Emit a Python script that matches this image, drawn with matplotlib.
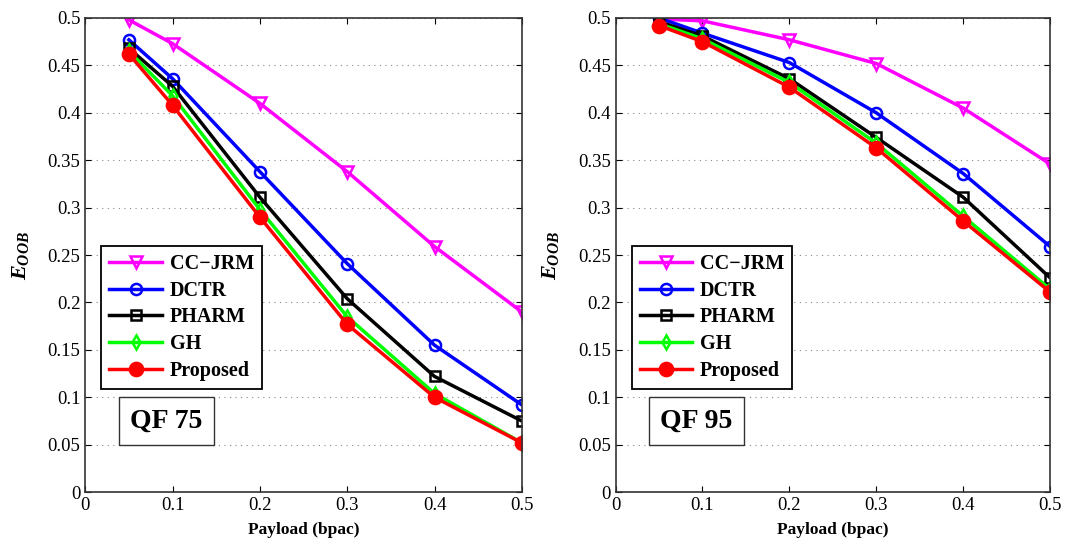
import matplotlib
matplotlib.use('Agg')
import matplotlib.pyplot as plt

plt.rcParams['font.family'] = ['Liberation Serif', 'DejaVu Serif']
plt.rcParams['mathtext.fontset'] = 'custom'
plt.rcParams['mathtext.it'] = 'Liberation Serif:italic:bold'
plt.rcParams['mathtext.rm'] = 'Liberation Serif'

payload = [0.05, 0.1, 0.2, 0.3, 0.4, 0.5]
methods = ['CC\u2212JRM', 'DCTR', 'PHARM', 'GH', 'Proposed']

# QF 75
qf75_ccjrm = [0.498, 0.473, 0.410, 0.338, 0.259, 0.190]
qf75_dctr = [0.477, 0.436, 0.338, 0.241, 0.155, 0.092]
qf75_pharm = [0.468, 0.428, 0.311, 0.204, 0.122, 0.075]
qf75_gh = [0.465, 0.418, 0.298, 0.185, 0.104, 0.052]
qf75_proposed = [0.462, 0.408, 0.290, 0.177, 0.100, 0.052]

# QF 95
qf95_ccjrm = [0.499, 0.497, 0.477, 0.452, 0.405, 0.346]
qf95_dctr = [0.500, 0.484, 0.453, 0.400, 0.336, 0.259]
qf95_pharm = [0.496, 0.481, 0.436, 0.374, 0.311, 0.226]
qf95_gh = [0.494, 0.478, 0.432, 0.368, 0.291, 0.214]
qf95_proposed = [0.492, 0.475, 0.427, 0.363, 0.286, 0.211]

styles = [
    dict(color='#ff00ff', marker='v', mfc='none', ms=9),
    dict(color='#0000ff', marker='o', mfc='none', ms=8),
    dict(color='black', marker='s', mfc='none', ms=6.5),
    dict(color='#00ff00', marker='d', mfc='none', ms=7),
    dict(color='#ff0000', marker='o', mfc='#ff0000', ms=9.5),
]

fig = plt.figure(figsize=(10.65, 5.45), dpi=100)
ax1 = fig.add_axes([0.080, 0.097, 0.410, 0.870])
ax2 = fig.add_axes([0.578, 0.097, 0.408, 0.870])

panels = [
    (ax1, [qf75_ccjrm, qf75_dctr, qf75_pharm, qf75_gh, qf75_proposed], 'QF 75'),
    (ax2, [qf95_ccjrm, qf95_dctr, qf95_pharm, qf95_gh, qf95_proposed], 'QF 95'),
]

for ax, series, tag in panels:
    for name, vals, st in zip(methods, series, styles):
        ax.plot(payload, vals, label=name, lw=2.5, mew=1.8, **st)
    ax.set_xlim(0, 0.5)
    ax.set_ylim(0, 0.5)
    ax.set_xticks([0, 0.1, 0.2, 0.3, 0.4, 0.5])
    ax.set_xticklabels(['0', '0.1', '0.2', '0.3', '0.4', '0.5'])
    ax.set_yticks([0, 0.05, 0.1, 0.15, 0.2, 0.25, 0.3, 0.35, 0.4, 0.45, 0.5])
    ax.set_yticklabels(['0', '0.05', '0.1', '0.15', '0.2', '0.25', '0.3', '0.35',
                        '0.4', '0.45', '0.5'])
    ax.tick_params(labelsize=13.5, direction='in', top=True, right=True, length=4)
    ax.yaxis.grid(True, linestyle=(0, (1, 4)), color='#888888', lw=0.8)
    for s in ax.spines.values():
        s.set_linewidth(1.2)
        s.set_color('#333333')
    ax.set_xlabel('Payload (bpac)', fontsize=12.5, fontweight='bold', labelpad=6)
    ax.set_ylabel(r'$E_{OOB}$', fontsize=16, labelpad=12)
    leg = ax.legend(loc='upper left', bbox_to_anchor=(0.037, 0.519),
                    borderaxespad=0,
                    prop={'weight': 'bold', 'size': 14.5}, fancybox=False,
                    framealpha=1, edgecolor='black', borderpad=0.4,
                    labelspacing=0.33, handlelength=2.6, handletextpad=0.4)
    leg.get_frame().set_linewidth(1.3)
    ax.text(0.186, 0.15, tag, transform=ax.transAxes, ha='center', va='center',
            fontsize=20, fontweight='bold',
            bbox=dict(boxstyle='square,pad=0.4', fc='white', ec='#333333', lw=1))

fig.savefig('out.png', dpi=100)
